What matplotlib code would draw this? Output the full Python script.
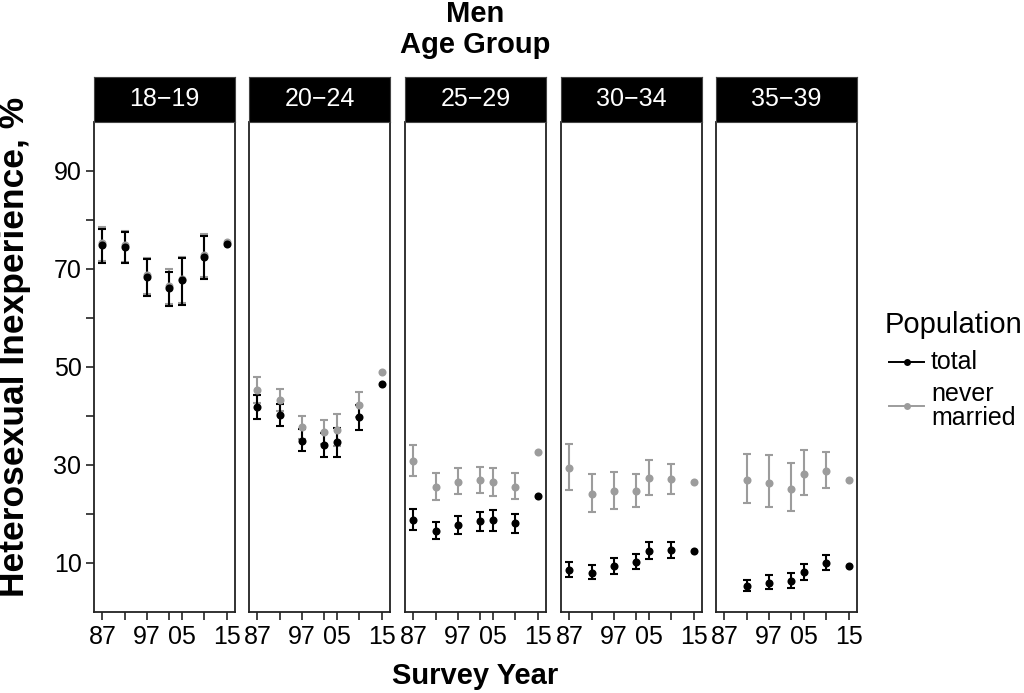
import numpy as np
import matplotlib
matplotlib.use("Agg")
import matplotlib.pyplot as plt
from matplotlib.lines import Line2D

nan = np.nan
years = [1987, 1992, 1997, 2002, 2005, 2010, 2015]
tick_labels = ["87", "", "97", "", "05", "", "15"]
age_groups = ["18\u221219", "20\u221224", "25\u221229", "30\u221234", "35\u221239"]

# total population: estimate, lower, upper
total_18 = [75.0, 74.5, 68.4, 66.2, 67.8, 72.5, 75.2]
total_18_lo = [71.2, 71.2, 64.5, 62.4, 62.7, 68.0, nan]
total_18_hi = [78.2, 77.5, 72.0, 69.4, 72.2, 76.8, nan]
total_20 = [41.8, 40.3, 35.0, 34.0, 34.6, 39.7, 46.5]
total_20_lo = [39.4, 38.0, 32.9, 31.6, 31.7, 37.1, nan]
total_20_hi = [44.3, 42.4, 37.3, 36.5, 37.5, 42.2, nan]
total_25 = [18.8, 16.6, 17.7, 18.6, 18.7, 18.2, 23.7]
total_25_lo = [16.7, 14.8, 15.9, 16.6, 16.5, 16.2, nan]
total_25_hi = [21.0, 18.4, 19.6, 20.5, 20.9, 20.1, nan]
total_30 = [8.6, 8.0, 9.4, 10.3, 12.4, 12.7, 12.4]
total_30_lo = [7.1, 6.7, 7.8, 8.8, 10.8, 11.0, nan]
total_30_hi = [10.3, 9.5, 11.0, 11.9, 14.2, 14.3, nan]
total_35 = [nan, 5.3, 6.0, 6.4, 8.1, 10.1, 9.4]
total_35_lo = [nan, 4.2, 4.6, 5.0, 6.6, 8.6, nan]
total_35_hi = [nan, 6.5, 7.5, 8.0, 9.7, 11.6, nan]

# never married population: estimate, lower, upper
never_18 = [75.3, 74.8, 68.7, 66.6, 68.0, 72.8, 75.6]
never_18_lo = [71.6, 71.5, 64.8, 62.8, 63.0, 68.3, nan]
never_18_hi = [78.6, 77.8, 72.3, 70.1, 72.4, 77.1, nan]
never_20 = [45.3, 43.3, 37.7, 36.7, 37.1, 42.3, 48.9]
never_20_lo = [42.7, 41.1, 35.4, 34.3, 33.8, 39.7, nan]
never_20_hi = [47.9, 45.5, 40.0, 39.1, 40.4, 44.9, nan]
never_25 = [30.8, 25.5, 26.6, 26.9, 26.5, 25.6, 32.7]
never_25_lo = [27.7, 22.9, 24.1, 24.2, 23.6, 23.0, nan]
never_25_hi = [34.1, 28.3, 29.3, 29.6, 29.3, 28.3, nan]
never_30 = [29.4, 24.1, 24.6, 24.6, 27.3, 27.1, 26.6]
never_30_lo = [25.0, 20.5, 21.0, 21.4, 23.8, 24.0, nan]
never_30_hi = [34.3, 28.2, 28.6, 28.2, 31.0, 30.3, nan]
never_35 = [nan, 26.9, 26.4, 25.2, 28.2, 28.8, 26.9]
never_35_lo = [nan, 22.3, 21.4, 20.6, 23.8, 25.3, nan]
never_35_hi = [nan, 32.2, 32.0, 30.4, 33.0, 32.7, nan]

totals = [(total_18, total_18_lo, total_18_hi), (total_20, total_20_lo, total_20_hi),
          (total_25, total_25_lo, total_25_hi), (total_30, total_30_lo, total_30_hi),
          (total_35, total_35_lo, total_35_hi)]
nevers = [(never_18, never_18_lo, never_18_hi), (never_20, never_20_lo, never_20_hi),
          (never_25, never_25_lo, never_25_hi), (never_30, never_30_lo, never_30_hi),
          (never_35, never_35_lo, never_35_hi)]

plt.rcParams['font.family'] = ['Liberation Sans', 'DejaVu Sans']

W, H = 1024, 693
fig = plt.figure(figsize=(W / 100, H / 100), dpi=100)

BLACK = "#000000"
GREY = "#9c9c9c"
lefts = [94, 249, 405, 561, 716]
pw = 141
ptop, pbot, stop = 122, 612, 77


def fx(px):
    return px / W


def fy(py):
    return 1 - py / H


def draw(ax, vals, color):
    v, lo, hi = (np.array(a, dtype=float) for a in vals)
    x = np.array(years, dtype=float)
    m = ~np.isnan(lo)
    ax.errorbar(x[m], v[m], yerr=[v[m] - lo[m], hi[m] - v[m]], fmt='none',
                ecolor=color, elinewidth=1.5, capsize=2.8, capthick=1.5, zorder=3)
    ax.plot(x, v, 'o', color=color, markersize=5.8, markeredgewidth=0, zorder=4)


for i, lab in enumerate(age_groups):
    ax = fig.add_axes([fx(lefts[i]), fy(pbot), fx(pw), (pbot - ptop) / H])
    draw(ax, nevers[i], GREY)
    draw(ax, totals[i], BLACK)
    ax.set_xlim(1985.1, 2016.9)
    ax.set_ylim(0, 100)
    ax.set_xticks(years)
    ax.set_xticklabels(tick_labels, fontsize=18)
    ax.tick_params(axis='x', length=6, width=1.2, pad=3, color='#222222')
    for s in ['left', 'right', 'bottom']:
        ax.spines[s].set_linewidth(1.3)
        ax.spines[s].set_color('#222222')
    ax.spines['top'].set_visible(False)
    if i == 0:
        ax.set_yticks([10, 20, 30, 40, 50, 60, 70, 80, 90])
        ax.set_yticklabels(["10", "", "30", "", "50", "", "70", "", "90"], fontsize=18)
        ax.tick_params(axis='y', length=6, width=1.2, pad=3, color='#222222')
    else:
        ax.set_yticks([])
    sax = fig.add_axes([fx(lefts[i]), fy(ptop), fx(pw), (ptop - stop) / H])
    sax.set_facecolor('black')
    sax.set_xticks([])
    sax.set_yticks([])
    for s in sax.spines.values():
        s.set_color('#444444')
    sax.text(0.5, 0.5, lab, color='white', fontsize=18, ha='center', va='center',
             transform=sax.transAxes)

cx = fx((lefts[0] + lefts[-1] + pw) / 2)
fig.text(cx, fy(22), "Men", fontsize=21, fontweight='bold', ha='center', va='baseline')
fig.text(cx, fy(53), "Age Group", fontsize=21, fontweight='bold', ha='center', va='baseline')
fig.text(cx, fy(676), "Survey Year", fontsize=21, fontweight='bold', ha='center', va='center')
fig.text(fx(15), fy(347), "Heterosexual Inexperience, %", fontsize=25.5, fontweight='bold',
         rotation=90, ha='center', va='center')

# legend
fig.text(fx(885), fy(333), "Population", fontsize=21, ha='left', va='baseline')
for color, ky, label in [(BLACK, 362, "total"), (GREY, 406, "never\nmarried")]:
    fig.add_artist(Line2D([fx(889), fx(924)], [fy(ky), fy(ky)], color=color, lw=1.4,
                          transform=fig.transFigure))
    fig.add_artist(Line2D([fx(906.5)], [fy(ky)], marker='o', color=color, markersize=5,
                          markeredgewidth=0, transform=fig.transFigure))
    fig.text(fx(931), fy(ky), label, fontsize=18, ha='left', va='center', linespacing=0.95)

fig.savefig("out.png", dpi=100)
